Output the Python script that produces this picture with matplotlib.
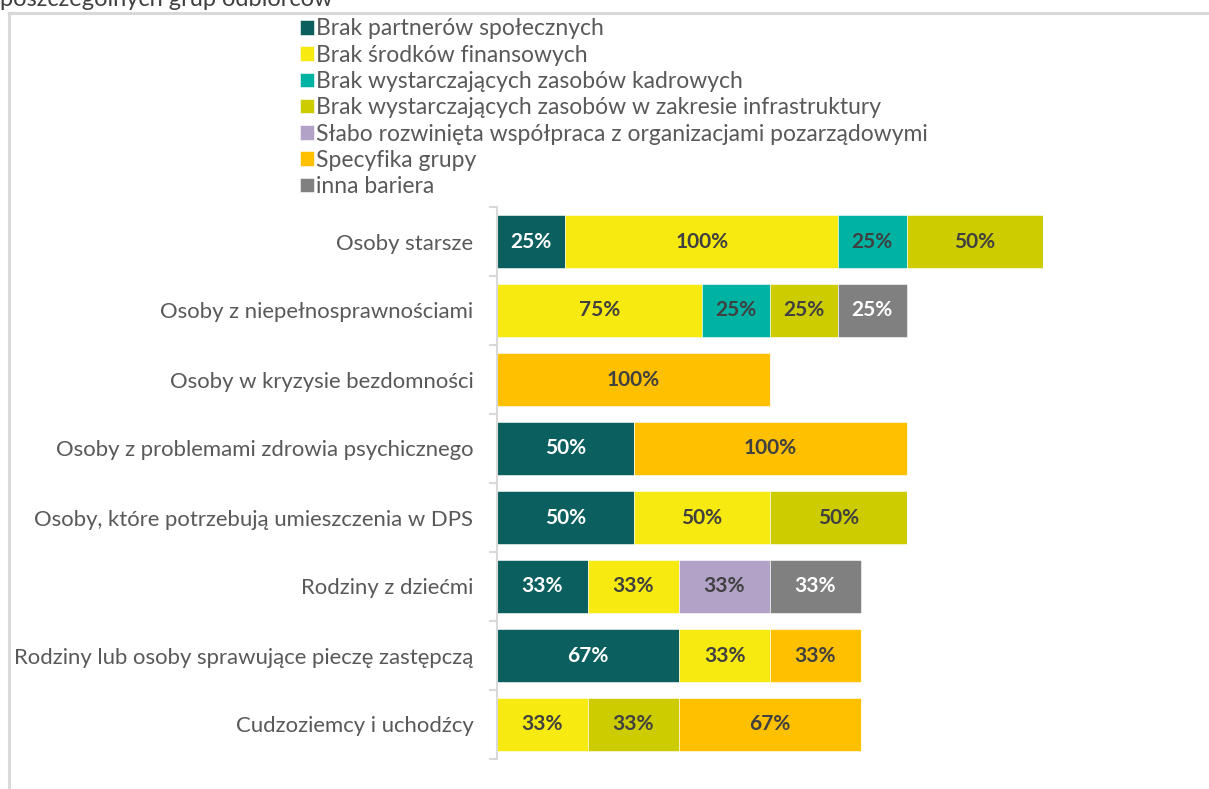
import matplotlib.pyplot as plt
import numpy as np
from matplotlib.lines import Line2D
from matplotlib.ticker import FixedLocator

plt.rcParams['font.family'] = ['Lato', 'DejaVu Sans']

groups = ['Osoby starsze',
          'Osoby z niepełnosprawnościami',
          'Osoby w kryzysie bezdomności',
          'Osoby z problemami zdrowia psychicznego',
          'Osoby, które potrzebują umieszczenia w DPS',
          'Rodziny z dziećmi',
          'Rodziny lub osoby sprawujące pieczę zastępczą',
          'Cudzoziemcy i uchodźcy']

barriers = ['Brak partnerów społecznych',
            'Brak środków finansowych',
            'Brak wystarczających zasobów kadrowych',
            'Brak wystarczających zasobów w zakresie infrastruktury',
            'Słabo rozwinięta współpraca z organizacjami pozarządowymi',
            'Specyfika grupy',
            'inna bariera']

# percent of answers per group, one list per barrier (same order as groups)
partnerzy = [25, 0, 0, 50, 50, 33.33, 66.67, 0]
finanse = [100, 75, 0, 0, 50, 33.33, 33.33, 33.33]
kadry = [25, 25, 0, 0, 0, 0, 0, 0]
infrastruktura = [50, 25, 0, 0, 50, 0, 0, 33.33]
ngo = [0, 0, 0, 0, 0, 33.33, 0, 0]
specyfika = [0, 0, 100, 100, 0, 0, 33.33, 66.67]
inna = [0, 25, 0, 0, 0, 33.33, 0, 0]

series = [partnerzy, finanse, kadry, infrastruktura, ngo, specyfika, inna]
colors = ['#0B5F5F', '#F6EA10', '#00B2A2', '#CCCC00', '#B3A2C7', '#FFC000', '#808080']
text_colors = ['white', '#404040', '#404040', '#404040', '#404040', '#404040', 'white']

W, H = 1209, 789
fig = plt.figure(figsize=(W / 100, H / 100), dpi=100)

# axes placed in pixel terms: left 497, right 1180, top 207, bottom 759
ax = fig.add_axes([497 / W, 1 - 759 / H, (1180 - 497) / W, (759 - 207) / H])

y = np.arange(len(groups))
left = np.zeros(len(groups))
handles = []
for name, vals, col, tcol in zip(barriers, series, colors, text_colors):
    vals = np.array(vals, dtype=float)
    bars = ax.barh(y, vals, left=left, height=0.77, color=col,
                   edgecolor='white', linewidth=0.4, label=name)
    for yi, v, l in zip(y, vals, left):
        if v > 0:
            ax.text(l + v / 2, yi, f'{v:.0f}%', ha='center', va='center',
                    fontsize=15, fontweight='bold', color=tcol)
    left += vals
    handles.append(bars)

ax.set_xlim(0, (1180 - 497) / 2.73)
ax.set_ylim(len(groups) - 0.5, -0.5)
ax.set_yticks(y)
ax.set_yticklabels(groups, fontsize=15.9, color='#595959')
ax.yaxis.set_minor_locator(FixedLocator(np.arange(-0.5, len(groups), 1)))
ax.tick_params(axis='y', which='major', length=0, pad=17)
ax.tick_params(axis='y', which='minor', length=6, width=1.5, color='#D9D9D9')
ax.set_xticks([])
for s in ['top', 'right', 'bottom']:
    ax.spines[s].set_visible(False)
ax.spines['left'].set_color('#D9D9D9')
ax.spines['left'].set_linewidth(1.5)

leg = fig.legend(handles=handles, labels=barriers, loc='upper left',
                 bbox_to_anchor=(289 / W, 1 - 7 / H), frameon=False,
                 fontsize=16.5, handlelength=0.6, handleheight=0.6,
                 handletextpad=0.1, labelspacing=0.23, borderpad=0,
                 labelcolor='#595959')

# chart frame and the tail of the title above it
fig.add_artist(Line2D([9 / W, 1], [1 - 13 / H, 1 - 13 / H], color='#D9D9D9', lw=2.2))
fig.add_artist(Line2D([9 / W, 9 / W], [0, 1 - 13 / H], color='#D9D9D9', lw=2.2))
fig.text(0, 1 - 6 / H, 'poszczególnych grup odbiorców', fontsize=17,
         color='#404040', ha='left', va='baseline')

fig.savefig('out.png', dpi=100)
